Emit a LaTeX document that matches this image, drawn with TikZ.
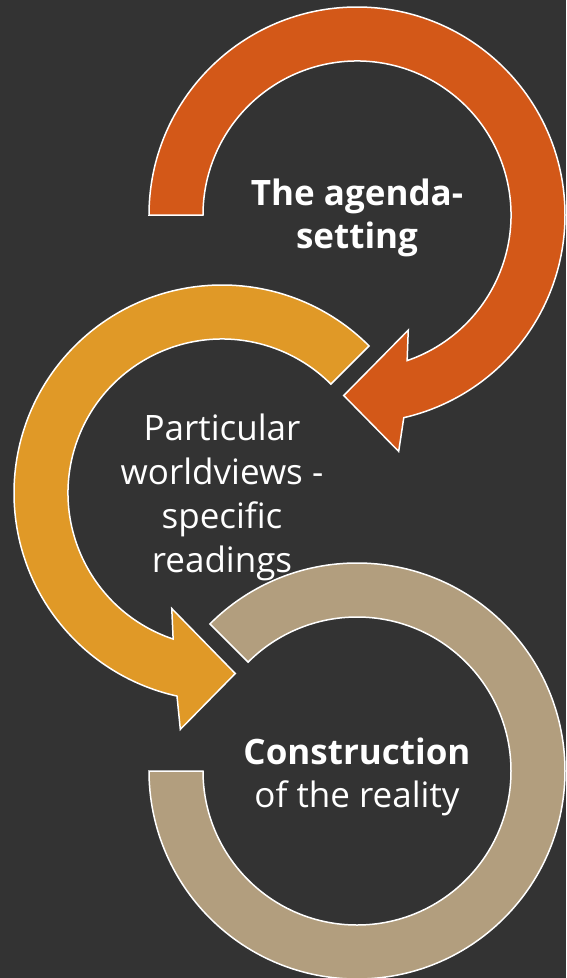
\documentclass[tikz,border=0pt]{standalone}
\usepackage{fontspec}
\setmainfont{Open Sans}[Ligatures={NoCommon}]
\usetikzlibrary{calc}
\definecolor{bg}{RGB}{51,51,51}
\definecolor{cOrange}{RGB}{211,88,24}
\definecolor{cYellow}{RGB}{224,153,39}
\definecolor{cTan}{RGB}{178,158,126}
\tikzset{
  ring/.style={draw=white, line width=1.5pt, line join=miter},
  lbl/.style={text=white, anchor=base, inner sep=0pt, font=\fontsize{35}{44}\selectfont},
  lblb/.style={lbl, font=\fontsize{35}{44}\selectfont\bfseries},
}
\begin{document}
\begin{tikzpicture}[x=1pt,y=1pt]
\fill[bg] (0,0) rectangle (566,-978);
\useasboundingbox (0,0) rectangle (566,-978);
\def\Ro{208}\def\Ri{154}\def\Rm{181}
% orange arrow (clockwise)
\coordinate (cA) at (357,-215);
\filldraw[ring, fill=cOrange]
  ($(cA)+(180:\Ro)$) arc[start angle=180, end angle=-77, radius=\Ro]
  -- ($(cA)+(-80:240)$) -- ($(cA)+(-94.2:\Rm)$) -- ($(cA)+(-66:126)$)
  -- ($(cA)+(-71:\Ri)$) arc[start angle=-71, end angle=180, radius=\Ri] -- cycle;
% yellow arrow (counterclockwise)
\coordinate (cB) at (222,-493);
\filldraw[ring, fill=cYellow]
  ($(cB)+(45:\Ro)$) arc[start angle=45, end angle=257.5, radius=\Ro]
  -- ($(cB)+(260:240)$) -- ($(cB)+(274.2:\Rm)$) -- ($(cB)+(246.5:126)$)
  -- ($(cB)+(251.5:\Ri)$) arc[start angle=251.5, end angle=45, radius=\Ri] -- cycle;
% tan ring
\coordinate (cC) at (357,-771);
\filldraw[ring, fill=cTan]
  ($(cC)+(135:\Ro)$) arc[start angle=135, end angle=-180, radius=\Ro]
  -- ($(cC)+(180:\Ri)$) arc[start angle=-180, end angle=135, radius=\Ri] -- cycle;
% labels
\node[lblb] (a1) at (357,-205) {The agenda-};
\node[lblb] (a2) at (357,-248) {setting};
\node[lbl] (b1) at (222,-440) {Particular};
\node[lbl] (b2) at (222,-484) {worldviews -};
\node[lbl] (b3) at (222,-528) {specific};
\node[lbl] (b4) at (222,-572) {readings};
\node[lblb] (c1) at (357,-764) {Construction};
\node[lbl] (c2) at (357,-807) {of the reality};
\end{tikzpicture}
\end{document}
